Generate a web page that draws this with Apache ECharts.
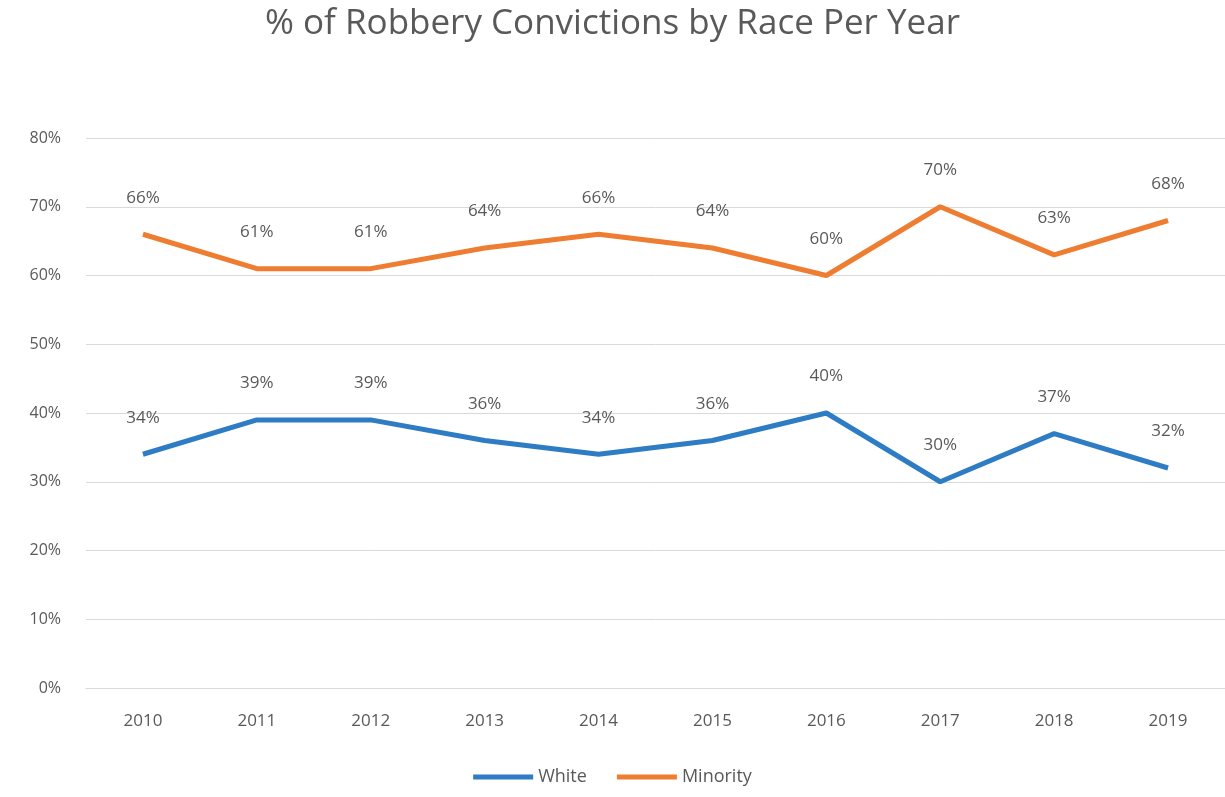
<!DOCTYPE html>
<html>
<head>
<meta charset="utf-8">
<script src="https://cdn.jsdelivr.net/npm/echarts@6/dist/echarts.min.js"></script>
<style>
  html, body { margin: 0; padding: 0; background: #ffffff; }
  #chart { width: 1225px; height: 797px; }
</style>
</head>
<body>
<div id="chart"></div>
<script>
// Robbery convictions share by race, 2010–2019
const years = ['2010', '2011', '2012', '2013', '2014', '2015', '2016', '2017', '2018', '2019'];
const whiteShare = [34, 39, 39, 36, 34, 36, 40, 30, 37, 32];
const minorityShare = [66, 61, 61, 64, 66, 64, 60, 70, 63, 68];
const yTicks = [0, 10, 20, 30, 40, 50, 60, 70, 80];

const textColor = '#595959';
const fontFamily = '"Open Sans", "Liberation Sans", sans-serif';

const chart = echarts.init(document.getElementById('chart'));

const labelStyle = {
  show: true,
  position: 'top',
  distance: 28,
  formatter: p => p.value + '%',
  color: textColor,
  fontSize: 17,
  fontFamily: fontFamily
};

chart.setOption({
  animation: false,
  title: {
    text: '% of Robbery Convictions by Race Per Year',
    left: 'center',
    top: 2,
    textStyle: { color: textColor, fontSize: 35, fontWeight: 'normal', fontFamily: fontFamily }
  },
  legend: {
    bottom: 6,
    left: 'center',
    itemWidth: 60,
    itemHeight: 5,
    itemGap: 30,
    icon: 'rect',
    textStyle: { color: textColor, fontSize: 18, fontFamily: fontFamily },
    data: ['White', 'Minority']
  },
  grid: { left: 86, top: 138, width: 1146, height: 550 },
  xAxis: {
    type: 'category',
    data: years,
    boundaryGap: true,
    axisLine: { show: true, lineStyle: { color: '#d9d9d9', width: 1 } },
    axisTick: { show: false },
    axisLabel: { color: textColor, fontSize: 17, fontFamily: fontFamily, margin: 25 }
  },
  yAxis: {
    type: 'value',
    min: yTicks[0],
    max: yTicks[yTicks.length - 1],
    interval: 10,
    axisLine: { show: false },
    axisTick: { show: false },
    axisLabel: { color: textColor, fontSize: 16, fontFamily: fontFamily, margin: 25, formatter: v => v + '%' },
    splitLine: { lineStyle: { color: '#d9d9d9', width: 1 } }
  },
  series: [
    {
      name: 'White',
      type: 'line',
      data: whiteShare,
      symbol: 'circle',
      symbolSize: 0,
      lineStyle: { color: '#2e7cc4', width: 5 },
      itemStyle: { color: '#2e7cc4' },
      label: labelStyle
    },
    {
      name: 'Minority',
      type: 'line',
      data: minorityShare,
      symbol: 'circle',
      symbolSize: 0,
      lineStyle: { color: '#ee7d31', width: 5 },
      itemStyle: { color: '#ee7d31' },
      label: labelStyle
    }
  ]
});
</script>
</body>
</html>
